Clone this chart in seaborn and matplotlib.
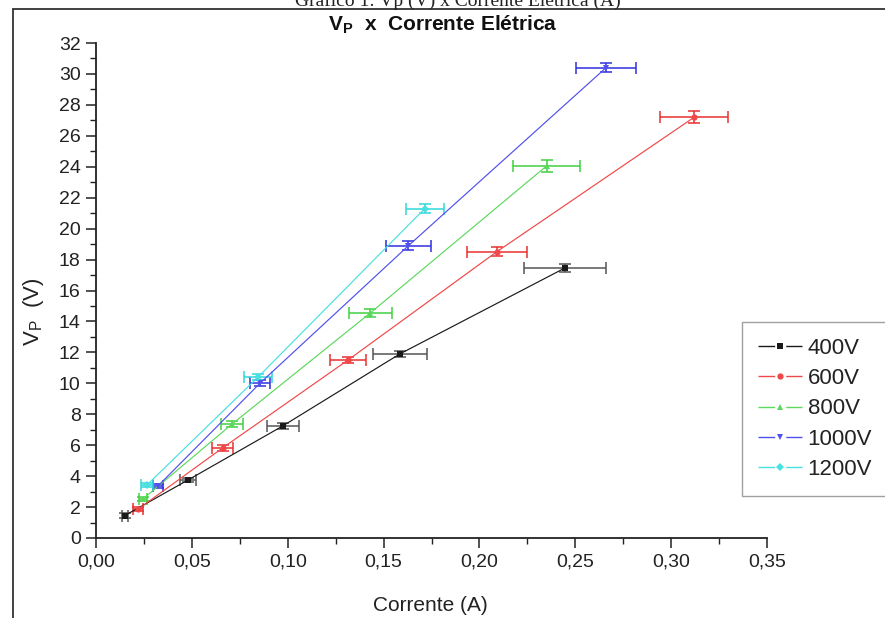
import matplotlib
matplotlib.use("Agg")
import matplotlib.pyplot as plt
import numpy as np
import pandas as pd
import seaborn as sns
from matplotlib.lines import Line2D
from matplotlib.ticker import MultipleLocator, FuncFormatter

# ---------------- data ----------------
series = ["400V", "600V", "800V", "1000V", "1200V"]

i_400 = [0.015, 0.048, 0.0975, 0.1585, 0.2445]
v_400 = [1.45, 3.75, 7.25, 11.9, 17.45]
ie_400 = [0.0015, 0.004, 0.0083, 0.014, 0.0215]
ve_400 = [0.15, 0.15, 0.2, 0.2, 0.25]

i_600 = [0.022, 0.066, 0.1314, 0.209, 0.312]
v_600 = [1.87, 5.82, 11.5, 18.5, 27.2]
ie_600 = [0.0025, 0.0055, 0.0096, 0.0156, 0.0177]
ve_600 = [0.15, 0.2, 0.2, 0.3, 0.4]

i_800 = [0.0245, 0.071, 0.143, 0.235]
v_800 = [2.52, 7.37, 14.54, 24.05]
ie_800 = [0.002, 0.0057, 0.0112, 0.0177]
ve_800 = [0.15, 0.2, 0.25, 0.38]

i_1000 = [0.0323, 0.0855, 0.163, 0.266]
v_1000 = [3.36, 10.0, 18.9, 30.4]
ie_1000 = [0.0024, 0.005, 0.0117, 0.0156]
ve_1000 = [0.15, 0.2, 0.27, 0.3]

i_1200 = [0.0266, 0.0845, 0.1715]
v_1200 = [3.43, 10.4, 21.3]
ie_1200 = [0.0032, 0.0073, 0.0099]
ve_1200 = [0.15, 0.2, 0.27]

x_ticks = [0.00, 0.05, 0.10, 0.15, 0.20, 0.25, 0.30, 0.35]
y_ticks = list(range(0, 33, 2))

caption = "Gráfico 1: Vp (V) x Corrente Elétrica (A)"
title = r"V$_\mathbf{P}$  x  Corrente Elétrica"
xlabel = "Corrente (A)"
ylabel = r"V$_\mathregular{P}$  (V)"

# ---------------- table ----------------
groups = [
    ("400V", i_400, v_400, ie_400, ve_400),
    ("600V", i_600, v_600, ie_600, ve_600),
    ("800V", i_800, v_800, ie_800, ve_800),
    ("1000V", i_1000, v_1000, ie_1000, ve_1000),
    ("1200V", i_1200, v_1200, ie_1200, ve_1200),
]
rows = []
for name, xs, ys, xe, ye in groups:
    for a, b, c, d in zip(xs, ys, xe, ye):
        rows.append({"serie": name, "I": a, "V": b, "Ie": c, "Ve": d})
df = pd.DataFrame(rows)

# ---------------- style ----------------
sns.set_style("ticks")
plt.rcParams["font.family"] = ["Liberation Sans", "DejaVu Sans"]
plt.rcParams["mathtext.fontset"] = "custom"
plt.rcParams["mathtext.rm"] = "Liberation Sans"
plt.rcParams["mathtext.bf"] = "Liberation Sans:bold"

line_colors = {"400V": "#1a1a1a", "600V": "#f04848", "800V": "#5cd85c",
               "1000V": "#5050ee", "1200V": "#48e0e0"}
err_colors = {"400V": "#555555", "600V": "#e83030", "800V": "#40d040",
              "1000V": "#3030e0", "1200V": "#30d8d8"}
markers = {"400V": "s", "600V": "o", "800V": "^", "1000V": "v", "1200V": "D"}

fig = plt.figure(figsize=(8.85, 6.18), dpi=100)
ax = fig.add_axes([96 / 885, 80 / 618, 671 / 885, 495 / 618])

for name, xs, ys, xe, ye in groups:
    ax.errorbar(xs, ys, xerr=xe, yerr=ye, fmt="none", ecolor=err_colors[name],
                elinewidth=1.1, capsize=4.5, capthick=1.1, zorder=2)

sns.lineplot(data=df, x="I", y="V", hue="serie", style="serie",
             hue_order=series, style_order=series,
             palette=line_colors, markers=markers, dashes=False,
             linewidth=0.85, markersize=4.5, markeredgewidth=0,
             ax=ax, zorder=3)

ax.set_xlim(0, 0.35)
ax.set_ylim(0, 32)
ax.set_xticks(x_ticks)
ax.set_yticks(y_ticks)
ax.xaxis.set_minor_locator(MultipleLocator(0.025))
ax.yaxis.set_minor_locator(MultipleLocator(1))
ax.xaxis.set_major_formatter(FuncFormatter(lambda v, p: f"{v:.2f}".replace(".", ",")))
ax.tick_params(which="major", direction="out", length=7, width=1.1,
               labelsize=14, color="#222222", labelcolor="#222222", pad=4)
ax.tick_params(which="minor", direction="out", length=4, width=1.0, color="#222222")
for s in ["top", "right"]:
    ax.spines[s].set_visible(False)
for s in ["left", "bottom"]:
    ax.spines[s].set_linewidth(1.3)
    ax.spines[s].set_color("#222222")

ax.set_xlabel(xlabel, fontsize=15, color="#222222")
ax.set_ylabel(ylabel, fontsize=16, color="#222222")
ax.xaxis.set_label_coords(0.498, -0.118)
ax.yaxis.set_label_coords(-0.074, 0.457)

handles, labels = ax.get_legend_handles_labels()
leg = ax.legend(handles, labels, loc="upper left", bbox_to_anchor=(0.963, 0.436),
                fontsize=16, frameon=True, fancybox=False, edgecolor="#888888",
                handlelength=2.0, labelspacing=0.42, borderpad=0.7,
                handletextpad=0.25, borderaxespad=0)
leg.get_frame().set_linewidth(1.0)
for t in leg.get_texts():
    t.set_color("#222222")
for ln in leg.get_lines():
    ln.set_linewidth(1.0)
    ln.set_dashes((12, 8, 12, 60))

fig.text(443 / 885, 1 - 30 / 618, title, fontsize=15, fontweight="bold",
         ha="center", va="baseline", color="#111111")
fig.text(458 / 885, 1 - 6 / 618, caption, fontsize=14,
         family=["Liberation Serif", "DejaVu Serif"], ha="center", va="baseline",
         color="#222222")

fig.add_artist(Line2D([13 / 885, 13 / 885], [0, 1 - 9 / 618],
                      transform=fig.transFigure, color="#333333", lw=1.3))
fig.add_artist(Line2D([13 / 885, 1], [1 - 9 / 618, 1 - 9 / 618],
                      transform=fig.transFigure, color="#333333", lw=1.3))

fig.savefig("out.png", dpi=100)
